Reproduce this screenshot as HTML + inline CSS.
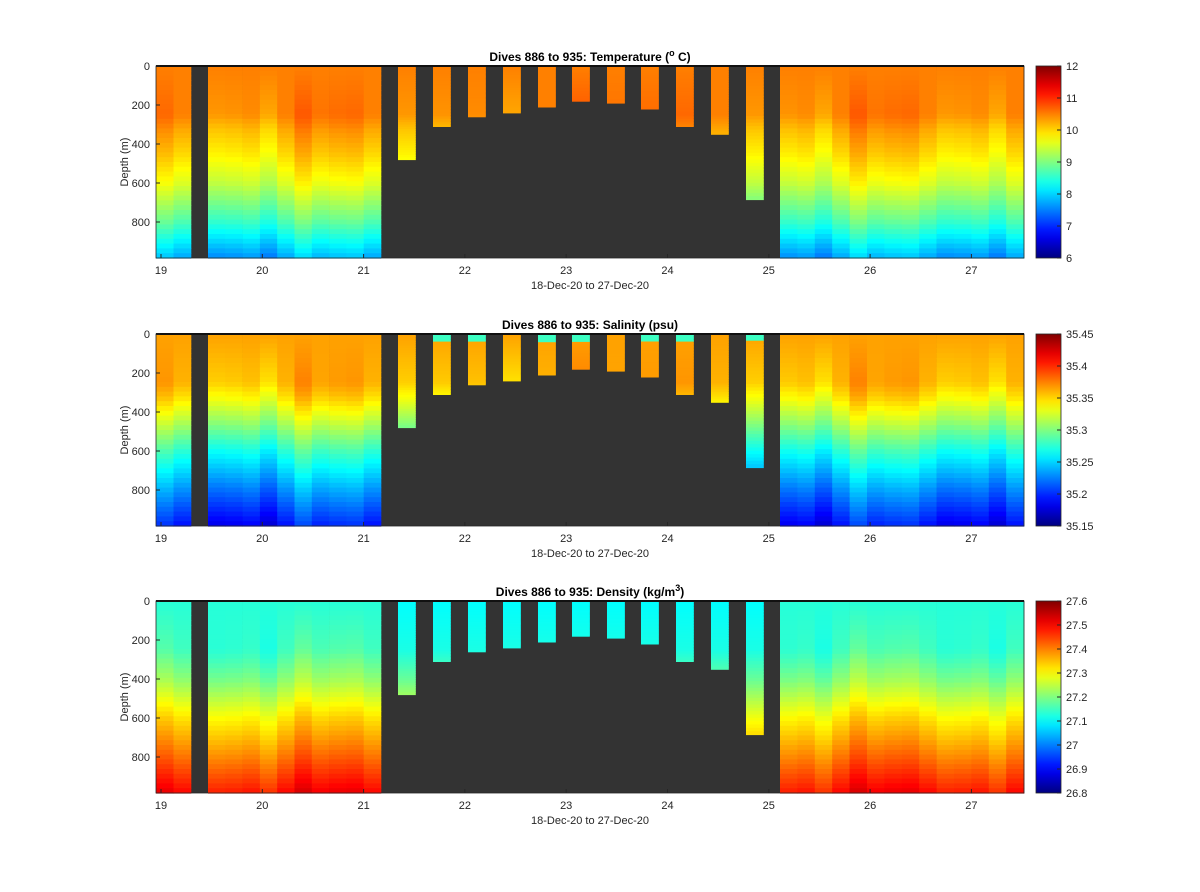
<!DOCTYPE html>
<html><head><meta charset="utf-8"><style>
body{margin:0;background:#fff;font-family:"Liberation Sans",sans-serif;}
</style></head><body>
<svg id="s" width="1200" height="892" xmlns="http://www.w3.org/2000/svg" style="display:block"></svg>
<script>
function jet(t){t=Math.max(0,Math.min(1,t));
function c(x){return Math.round(255*Math.max(0,Math.min(1,x)));}
var r=1.5-Math.abs(4*t-3),g=1.5-Math.abs(4*t-2),b=1.5-Math.abs(4*t-1);
return 'rgb('+c(r)+','+c(g)+','+c(b)+')';}
var S=document.getElementById('s'),h='';
var PH=192;
function xd(d){return 161+(d-19)*101.3;}
var panels=[
 {top:66,title:'Dives 886 to 935: Temperature (<tspan font-size="9" dy="-5">o</tspan><tspan dy="5"> C)</tspan>',
  lo:6,hi:12,ticks:['6','7','8','9','10','11','12'],
  prof:[[0,10.5],[250,10.5],[330,10.25],[450,9.98],[600,9.55],[800,8.7],[990,7.7]],amp:0.28},
 {top:334,title:'Dives 886 to 935: Salinity (psu)',lo:35.15,hi:35.45,
  ticks:['35.15','35.2','35.25','35.3','35.35','35.4','35.45'],
  prof:[[0,35.365],[250,35.36],[330,35.345],[450,35.315],[600,35.275],[800,35.23],[990,35.19]],amp:0.017},
 {top:601,title:'Dives 886 to 935: Density (kg/m<tspan font-size="9" dy="-5">3</tspan><tspan dy="5">)</tspan>',lo:26.8,hi:27.6,
  ticks:['26.8','26.9','27','27.1','27.2','27.3','27.4','27.5','27.6'],
  prof:[[0,27.13],[250,27.15],[400,27.21],[600,27.32],[800,27.41],[990,27.5]],amp:0.035}
];
function val(p,d){var a=p.prof;for(var i=1;i<a.length;i++){if(d<=a[i][0]){var f=(d-a[i-1][0])/(a[i][0]-a[i-1][0]);return a[i-1][1]+f*(a[i][1]-a[i-1][1]);}}return a[a.length-1][1];}
var cols=[];var x;
cols.push([156,173.5,985]);cols.push([173.5,191,985]);
for(x=208;x<381;x+=17.3)cols.push([x,Math.min(x+17.3,381),985]);
var bars=[[398,480],[433,310],[468,260],[503,240],[538,210],[572,180],[607,190],[641,220],[676,310],[711,350],[746,685]];
bars.forEach(function(b){cols.push([b[0],b[0]+17.5,b[1],1]);});
for(x=780;x<1024;x+=17.4)cols.push([x,Math.min(x+17.4,1024),985]);
var gid=0;
panels.forEach(function(p,pi){
 var T=p.top;
 h+='<rect x="156" y="'+T+'" width="868" height="'+PH+'" fill="#333"/>';
 cols.forEach(function(c,ci){
  var wig=((ci*7)%5-2)/2*(ci%2?1:-0.6);
  var n=40,step=c[2]/n,ph=c[2]*PH/985;
  for(var k=0;k<n;k++){var d=k*step+step/2;
   var v=val(p,d)+wig*p.amp*Math.min(1,d/300);
   if(c[3]&&pi==1&&d<40&&ci%3!=0)v=35.28;
   if(c[3]&&pi==2)v=val(p,d)-0.03;
   var t=(v-p.lo)/(p.hi-p.lo);
   var y0=T+k*ph/n;
   h+='<rect x="'+c[0].toFixed(1)+'" y="'+y0.toFixed(1)+'" width="'+(c[1]-c[0]+0.3).toFixed(1)+'" height="'+(ph/n+0.6).toFixed(1)+'" fill="'+jet(t)+'"/>';}
 });
 h+='<rect x="156" y="'+T+'" width="868" height="'+PH+'" fill="none" stroke="#262626" stroke-width="0.8"/>';
 h+='<line x1="156" y1="'+T+'" x2="1024" y2="'+T+'" stroke="#111" stroke-width="2"/>';
 [0,200,400,600,800].forEach(function(d){var y=T+d*0.195;
  h+='<text x="150" y="'+(y+4)+'" font-size="11" text-anchor="end" fill="#262626">'+d+'</text>';
  h+='<line x1="156" y1="'+y+'" x2="160" y2="'+y+'" stroke="#262626"/>';});
 for(var d=19;d<=27;d++){var xx=xd(d);
  h+='<text x="'+xx+'" y="'+(T+PH+16)+'" font-size="11" text-anchor="middle" fill="#262626">'+d+'</text>';
  h+='<line x1="'+xx+'" y1="'+(T+PH)+'" x2="'+xx+'" y2="'+(T+PH-4)+'" stroke="#262626"/>';}
 h+='<text x="590" y="'+(T+PH+31)+'" font-size="11" text-anchor="middle" fill="#262626">18-Dec-20 to 27-Dec-20</text>';
 h+='<text transform="translate(128,'+(T+PH/2)+') rotate(-90)" font-size="11" text-anchor="middle" fill="#262626">Depth (m)</text>';
 h+='<text x="590" y="'+(T-5)+'" font-size="12" font-weight="bold" text-anchor="middle" fill="#000">'+p.title+'</text>';
 var g='g'+(gid++);
 h+='<defs><linearGradient id="'+g+'" x1="0" y1="1" x2="0" y2="0">';
 for(var i=0;i<=20;i++)h+='<stop offset="'+(i/20)+'" stop-color="'+jet(i/20)+'"/>';
 h+='</linearGradient></defs>';
 h+='<rect x="1036" y="'+T+'" width="25" height="'+PH+'" fill="url(#'+g+')" stroke="#262626" stroke-width="0.8"/>';
 var n=p.ticks.length;
 p.ticks.forEach(function(tk,i){var y=T+PH-i*PH/(n-1);
  h+='<text x="1066" y="'+(y+4)+'" font-size="11" fill="#262626">'+tk+'</text>';
  h+='<line x1="1057" y1="'+y+'" x2="1061" y2="'+y+'" stroke="#262626"/>';});
});
S.innerHTML=h;
</script>
</body></html>
